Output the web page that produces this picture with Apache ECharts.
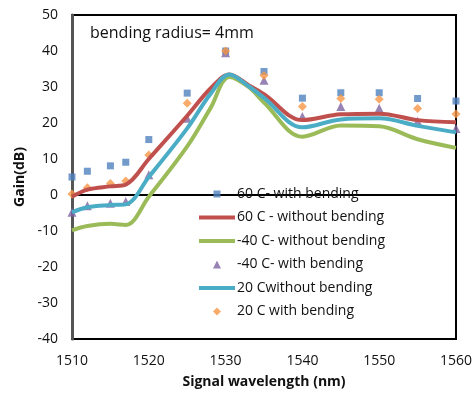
<!DOCTYPE html>
<html>
<head>
<meta charset="utf-8">
<script src="https://cdn.jsdelivr.net/npm/echarts@6/dist/echarts.min.js"></script>
<style>html,body{margin:0;padding:0;background:#fff}#c{width:476px;height:394px}</style>
</head>
<body>
<div id="c"></div>
<script>
// Marker series (measured points)
var xPts = [1510, 1512, 1515, 1517, 1520, 1525, 1530, 1535, 1540, 1545, 1550, 1555, 1560];
var sq60With = [5, 6.6, 8.1, 9.1, 15.4, 28.3, 40, 34.3, 26.9, 28.4, 28.4, 26.8, 26.1];
var tri40With = [-4.8, -3, -2.3, -1.8, 5.6, 21.3, 39.5, 31.9, 21.8, 24.6, 24.1, 20.5, 18.5];
var dia20With = [0.3, 2, 3.2, 3.9, 11.1, 25.5, 40, 33.2, 24.6, 26.8, 26.6, 24, 22.5];

// Line series (without bending)
var xLine = [1510, 1512, 1515, 1517, 1520, 1525, 1528, 1530.5, 1533, 1535, 1540, 1545, 1550, 1555, 1560];
var red60Without = [-0.5, 1.5, 2.4, 2.9, 10, 22, 29.5, 33.5, 30.5, 28, 20.8, 22.4, 22.6, 20.8, 20.2];
var green40Without = [-9.8, -8.6, -8.0, -8.3, -0.5, 13.5, 24, 32.8, 30, 25.7, 16.2, 19.3, 19.1, 15.5, 13.1];
var teal20Without = [-4.8, -3.4, -2.8, -2.6, 5, 18.5, 28, 33.5, 30.2, 27, 18.8, 21, 21.3, 19.2, 17.4];

var names = ['60 C- with bending', '60 C - without bending', '-40 C- without bending',
             '-40 C- with bending', '20 Cwithout bending', '20 C with bending'];

function pairs(xs, ys) { return xs.map(function (x, i) { return [x, ys[i]]; }); }

var FONT = '"Open Sans", "Liberation Sans", sans-serif';
var TEXT_X = 237, ROW0 = 194, ROWH = 23.5;
var legendSpec = [
  { icon: 'rect', w: 7, h: 7 },
  { icon: 'rect', w: 36, h: 4 },
  { icon: 'rect', w: 36, h: 4 },
  { icon: 'triangle', w: 8, h: 8 },
  { icon: 'rect', w: 36, h: 4 },
  { icon: 'diamond', w: 8, h: 8 }
];
var legends = legendSpec.map(function (s, i) {
  var iconLeft = s.w > 20 ? 199 : 217 - s.w / 2;
  var pad = TEXT_X - (iconLeft + s.w + 5);
  return {
    orient: 'vertical', left: iconLeft, top: ROW0 + i * ROWH - 9, padding: 0,
    itemWidth: s.w, itemHeight: s.h, selectedMode: false,
    textStyle: { fontSize: 14, lineHeight: 18, color: '#111', fontFamily: FONT, padding: [0, 0, 0, pad] },
    data: [{ name: names[i], icon: s.icon }]
  };
});

var chart = echarts.init(document.getElementById('c'));
chart.setOption({
  animation: false,
  backgroundColor: '#fff',
  textStyle: { fontFamily: FONT },
  grid: { left: 72, right: 20, top: 15, bottom: 55, show: true, borderColor: '#000', borderWidth: 2 },
  graphic: [{
    type: 'text', left: 90, top: 25,
    style: { text: 'bending radius= 4mm', font: '16px ' + FONT, fill: '#111' }
  }],
  legend: legends,
  xAxis: {
    type: 'value', min: 1510, max: 1560, interval: 10,
    name: 'Signal wavelength (nm)', nameLocation: 'middle', nameGap: 36,
    nameTextStyle: { fontSize: 14, fontWeight: 'bold', color: '#111', fontFamily: FONT },
    axisLine: { show: true, lineStyle: { color: '#000', width: 2 } },
    axisTick: { show: false },
    axisLabel: { fontSize: 14, color: '#111', margin: 15, fontFamily: FONT,
                 formatter: function (v) { return String(v); } },
    splitLine: { show: false }
  },
  yAxis: {
    type: 'value', min: -40, max: 50, interval: 10,
    name: 'Gain(dB)', nameLocation: 'middle', nameGap: 40, nameRotate: 90,
    nameTextStyle: { fontSize: 14, fontWeight: 'bold', color: '#111', fontFamily: FONT },
    axisLine: { show: true, lineStyle: { color: '#555', width: 3 } },
    axisTick: { show: false },
    axisLabel: { fontSize: 14, color: '#111', margin: 14, fontFamily: FONT },
    splitLine: { show: false }
  },
  series: [
    { name: names[0], type: 'scatter', symbol: 'rect', symbolSize: 7,
      itemStyle: { color: '#4F81BD' }, data: pairs(xPts, sq60With) },
    { name: names[1], type: 'line', smooth: 0.35, symbol: 'none',
      lineStyle: { color: '#C0504D', width: 4 }, itemStyle: { color: '#C0504D' },
      data: pairs(xLine, red60Without) },
    { name: names[2], type: 'line', smooth: 0.35, symbol: 'none',
      lineStyle: { color: '#9BBB59', width: 4 }, itemStyle: { color: '#9BBB59' },
      data: pairs(xLine, green40Without) },
    { name: names[3], type: 'scatter', symbol: 'triangle', symbolSize: 9,
      itemStyle: { color: '#8064A2' }, data: pairs(xPts, tri40With) },
    { name: names[4], type: 'line', smooth: 0.35, symbol: 'none',
      lineStyle: { color: '#4BACC6', width: 4 }, itemStyle: { color: '#4BACC6' },
      data: pairs(xLine, teal20Without) },
    { name: names[5], type: 'scatter', symbol: 'diamond', symbolSize: 9,
      itemStyle: { color: '#F79646' }, data: pairs(xPts, dia20With) }
  ]
});
</script>
</body>
</html>
